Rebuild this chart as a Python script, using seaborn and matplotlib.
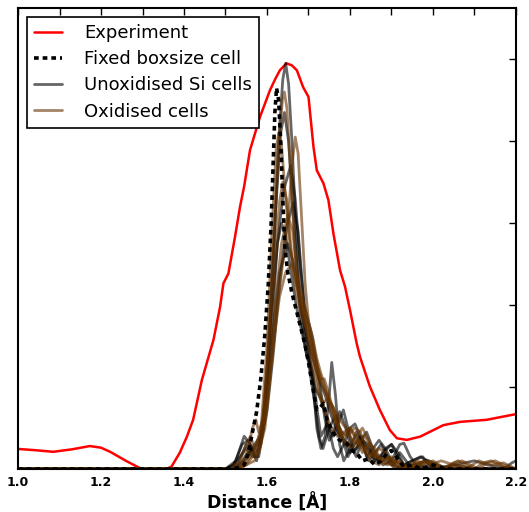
import matplotlib
matplotlib.use("Agg")
import matplotlib.pyplot as plt
from matplotlib.lines import Line2D
import seaborn as sns
import pandas as pd

# ---------------- data ----------------
exp_x = [1.000, 1.040, 1.085, 1.130, 1.173, 1.200, 1.222, 1.260, 1.294, 1.310, 1.358, 1.370,
         1.390, 1.407, 1.422, 1.443, 1.471, 1.487, 1.495, 1.507, 1.523, 1.535, 1.545, 1.559,
         1.583, 1.607, 1.620, 1.631, 1.647, 1.660, 1.672, 1.687, 1.700, 1.712, 1.720, 1.736,
         1.748, 1.760, 1.776, 1.788, 1.800, 1.816, 1.824, 1.848, 1.872, 1.896, 1.913, 1.937,
         1.969, 1.985, 2.025, 2.065, 2.129, 2.200]
exp_y = [0.049, 0.046, 0.042, 0.048, 0.056, 0.052, 0.042, 0.020, 0.002, 0.000, 0.000, 0.006,
         0.040, 0.079, 0.120, 0.217, 0.315, 0.396, 0.453, 0.477, 0.567, 0.640, 0.690, 0.778,
         0.859, 0.924, 0.952, 0.973, 0.990, 0.985, 0.973, 0.932, 0.908, 0.786, 0.729, 0.697,
         0.656, 0.575, 0.485, 0.445, 0.388, 0.307, 0.274, 0.201, 0.144, 0.095, 0.075, 0.071,
         0.079, 0.087, 0.107, 0.115, 0.120, 0.134]

fixed_cell = [(1.00, 0), (1.50, 0), (1.53, 0.003), (1.545, 0.01), (1.555, 0.04), (1.565, 0.09),
              (1.575, 0.14), (1.585, 0.22), (1.595, 0.33), (1.603, 0.45), (1.61, 0.60),
              (1.615, 0.75), (1.619, 0.87), (1.623, 0.93), (1.628, 0.90), (1.633, 0.80),
              (1.638, 0.66), (1.643, 0.54), (1.65, 0.48), (1.66, 0.43), (1.675, 0.37),
              (1.69, 0.31), (1.70, 0.26), (1.712, 0.19), (1.72, 0.145), (1.728, 0.15),
              (1.736, 0.16), (1.745, 0.12), (1.76, 0.088), (1.775, 0.07), (1.792, 0.063),
              (1.805, 0.045), (1.816, 0.039), (1.83, 0.02), (1.845, 0.025), (1.86, 0.01),
              (1.875, 0.02), (1.89, 0.04), (1.90, 0.045), (1.915, 0.025), (1.93, 0.005),
              (1.95, 0.01), (1.97, 0.0), (2.0, 0.01), (2.03, 0.0), (2.2, 0.0)]

unox_a = [(1.0, 0), (1.50, 0), (1.52, 0.01), (1.54, 0.06), (1.555, 0.07), (1.57, 0.03), (1.585, 0.06),
          (1.60, 0.22), (1.615, 0.50), (1.628, 0.80), (1.638, 0.95), (1.645, 0.99), (1.652, 0.94),
          (1.66, 0.80), (1.67, 0.58), (1.68, 0.42), (1.69, 0.34), (1.70, 0.30), (1.71, 0.22),
          (1.72, 0.10), (1.73, 0.05), (1.74, 0.08), (1.75, 0.18), (1.756, 0.26), (1.765, 0.18),
          (1.775, 0.06), (1.785, 0.02), (1.80, 0.05), (1.815, 0.09), (1.83, 0.06), (1.845, 0.02),
          (1.86, 0.04), (1.875, 0.06), (1.89, 0.03), (1.905, 0.01), (1.92, 0.04), (1.935, 0.02),
          (1.95, 0.0), (1.97, 0.01), (2.0, 0.0), (2.2, 0.0)]
unox_b = [(1.0, 0), (1.50, 0), (1.525, 0.02), (1.545, 0.08), (1.56, 0.06), (1.575, 0.02), (1.59, 0.10),
          (1.605, 0.32), (1.62, 0.62), (1.633, 0.82), (1.642, 0.87), (1.652, 0.80), (1.665, 0.60),
          (1.68, 0.38), (1.695, 0.28), (1.71, 0.24), (1.72, 0.15), (1.73, 0.08), (1.745, 0.11),
          (1.76, 0.08), (1.775, 0.12), (1.784, 0.144), (1.795, 0.10), (1.81, 0.04), (1.825, 0.07),
          (1.84, 0.09), (1.855, 0.05), (1.87, 0.02), (1.885, 0.05), (1.90, 0.06), (1.915, 0.03),
          (1.93, 0.01), (1.95, 0.02), (1.975, 0.03), (1.99, 0.01), (2.02, 0.0), (2.05, 0.01),
          (2.1, 0.0), (2.17, 0.0), (2.19, 0.015), (2.2, 0.02)]
unox_c = [(1.0, 0), (1.51, 0), (1.535, 0.03), (1.55, 0.05), (1.565, 0.03), (1.58, 0.03), (1.595, 0.12),
          (1.61, 0.32), (1.625, 0.55), (1.64, 0.68), (1.657, 0.74), (1.668, 0.66), (1.68, 0.50),
          (1.69, 0.40), (1.70, 0.36), (1.71, 0.32), (1.725, 0.22), (1.74, 0.12), (1.75, 0.07),
          (1.76, 0.09), (1.775, 0.14), (1.79, 0.10), (1.80, 0.06), (1.815, 0.03), (1.83, 0.07),
          (1.845, 0.06), (1.86, 0.02), (1.88, 0.04), (1.90, 0.06), (1.915, 0.04), (1.93, 0.01),
          (1.95, 0.02), (1.97, 0.03), (1.985, 0.02), (2.0, 0.0), (2.05, 0.01), (2.1, 0.02),
          (2.13, 0.01), (2.2, 0.0)]
unox_d = [(1.0, 0), (1.52, 0), (1.54, 0.02), (1.555, 0.04), (1.57, 0.05), (1.585, 0.07), (1.60, 0.14),
          (1.615, 0.28), (1.63, 0.45), (1.645, 0.58), (1.663, 0.65), (1.675, 0.58), (1.685, 0.45),
          (1.695, 0.32), (1.705, 0.24), (1.715, 0.20), (1.73, 0.17), (1.745, 0.12), (1.76, 0.05),
          (1.77, 0.03), (1.785, 0.06), (1.80, 0.10), (1.812, 0.11), (1.825, 0.08), (1.84, 0.03),
          (1.855, 0.05), (1.87, 0.07), (1.885, 0.05), (1.90, 0.02), (1.92, 0.06), (1.93, 0.063),
          (1.945, 0.03), (1.96, 0.01), (1.985, 0.022), (2.01, 0.01), (2.04, 0.0), (2.2, 0.0)]
unox_e = [(1.0, 0), (1.50, 0), (1.53, 0.015), (1.55, 0.06), (1.565, 0.04), (1.58, 0.05), (1.595, 0.16),
          (1.61, 0.38), (1.625, 0.55), (1.635, 0.60), (1.645, 0.57), (1.655, 0.50), (1.67, 0.40),
          (1.685, 0.33), (1.70, 0.26), (1.715, 0.16), (1.725, 0.08), (1.735, 0.05), (1.75, 0.10),
          (1.765, 0.13), (1.78, 0.08), (1.795, 0.03), (1.81, 0.06), (1.825, 0.08), (1.84, 0.05),
          (1.86, 0.02), (1.875, 0.03), (1.89, 0.02), (1.91, 0.0), (1.93, 0.01), (1.96, 0.0), (2.2, 0.0)]
unox_f = [(1.0, 0), (1.51, 0), (1.535, 0.01), (1.555, 0.03), (1.57, 0.06), (1.585, 0.08), (1.60, 0.18),
          (1.615, 0.34), (1.63, 0.48), (1.65, 0.55), (1.665, 0.50), (1.68, 0.40), (1.695, 0.33),
          (1.71, 0.27), (1.725, 0.22), (1.74, 0.18), (1.755, 0.13), (1.77, 0.09), (1.785, 0.07),
          (1.80, 0.04), (1.815, 0.05), (1.83, 0.07), (1.845, 0.05), (1.86, 0.03), (1.88, 0.01),
          (1.90, 0.02), (1.92, 0.0), (1.95, 0.01), (2.0, 0.0), (2.2, 0.0)]

ox_a = [(1.0, 0), (1.52, 0), (1.54, 0.01), (1.555, 0.05), (1.565, 0.10), (1.573, 0.12), (1.58, 0.09),
        (1.59, 0.12), (1.60, 0.25), (1.615, 0.52), (1.628, 0.78), (1.637, 0.90), (1.642, 0.92),
        (1.648, 0.88), (1.657, 0.72), (1.668, 0.52), (1.68, 0.40), (1.69, 0.38), (1.70, 0.35),
        (1.712, 0.28), (1.725, 0.20), (1.74, 0.14), (1.755, 0.10), (1.77, 0.08), (1.785, 0.09),
        (1.80, 0.10), (1.815, 0.07), (1.83, 0.04), (1.845, 0.06), (1.86, 0.05), (1.875, 0.02),
        (1.89, 0.01), (1.91, 0.02), (1.93, 0.01), (1.95, 0.0), (1.97, 0.015), (1.99, 0.02),
        (2.01, 0.01), (2.03, 0.0), (2.05, 0.015), (2.07, 0.02), (2.09, 0.01), (2.11, 0.0),
        (2.13, 0.015), (2.15, 0.02), (2.17, 0.01), (2.2, 0.0)]
ox_b = [(1.0, 0), (1.53, 0), (1.55, 0.01), (1.565, 0.03), (1.58, 0.04), (1.595, 0.10), (1.61, 0.25),
        (1.625, 0.40), (1.64, 0.52), (1.652, 0.62), (1.66, 0.74), (1.668, 0.81), (1.675, 0.77),
        (1.683, 0.62), (1.692, 0.45), (1.70, 0.36), (1.71, 0.32), (1.72, 0.27), (1.728, 0.24),
        (1.74, 0.20), (1.755, 0.14), (1.77, 0.10), (1.785, 0.07), (1.80, 0.06), (1.815, 0.08),
        (1.83, 0.10), (1.845, 0.07), (1.86, 0.03), (1.875, 0.02), (1.89, 0.03), (1.91, 0.01),
        (1.93, 0.0), (1.95, 0.01), (1.98, 0.02), (2.0, 0.01), (2.02, 0.0), (2.04, 0.01),
        (2.06, 0.02), (2.08, 0.01), (2.1, 0.0), (2.12, 0.015), (2.14, 0.02), (2.16, 0.01),
        (2.18, 0.0), (2.2, 0.0)]
ox_c = [(1.0, 0), (1.51, 0), (1.535, 0.02), (1.55, 0.06), (1.56, 0.08), (1.57, 0.05), (1.585, 0.09),
        (1.60, 0.30), (1.612, 0.58), (1.622, 0.78), (1.628, 0.82), (1.635, 0.79), (1.645, 0.66),
        (1.655, 0.55), (1.665, 0.47), (1.68, 0.42), (1.695, 0.36), (1.71, 0.30), (1.72, 0.26),
        (1.73, 0.21), (1.745, 0.18), (1.76, 0.15), (1.775, 0.12), (1.79, 0.10), (1.805, 0.07),
        (1.82, 0.06), (1.835, 0.08), (1.85, 0.06), (1.865, 0.03), (1.88, 0.02), (1.90, 0.03),
        (1.92, 0.01), (1.94, 0.0), (1.96, 0.015), (1.98, 0.0), (2.2, 0.0)]
ox_d = [(1.0, 0), (1.52, 0), (1.545, 0.01), (1.56, 0.03), (1.575, 0.06), (1.59, 0.12), (1.605, 0.30),
        (1.62, 0.52), (1.63, 0.65), (1.638, 0.70), (1.647, 0.66), (1.657, 0.55), (1.67, 0.43),
        (1.685, 0.37), (1.70, 0.33), (1.712, 0.27), (1.725, 0.22), (1.738, 0.22), (1.75, 0.18),
        (1.765, 0.12), (1.78, 0.09), (1.795, 0.08), (1.81, 0.10), (1.825, 0.09), (1.84, 0.05),
        (1.855, 0.03), (1.87, 0.05), (1.885, 0.04), (1.90, 0.01), (1.92, 0.02), (1.94, 0.0),
        (1.97, 0.01), (2.0, 0.02), (2.03, 0.0), (2.06, 0.01), (2.1, 0.0), (2.2, 0.0)]
ox_e = [(1.0, 0), (1.52, 0), (1.545, 0.02), (1.56, 0.04), (1.575, 0.04), (1.59, 0.09), (1.605, 0.22),
        (1.62, 0.40), (1.635, 0.55), (1.65, 0.62), (1.662, 0.58), (1.675, 0.45), (1.685, 0.39),
        (1.695, 0.34), (1.705, 0.28), (1.72, 0.20), (1.732, 0.16), (1.745, 0.17), (1.76, 0.15),
        (1.775, 0.10), (1.79, 0.06), (1.805, 0.05), (1.82, 0.07), (1.835, 0.05), (1.85, 0.02),
        (1.87, 0.01), (1.89, 0.03), (1.91, 0.02), (1.93, 0.0), (1.96, 0.02), (1.99, 0.01),
        (2.02, 0.02), (2.05, 0.01), (2.08, 0.0), (2.11, 0.02), (2.14, 0.01), (2.17, 0.015), (2.2, 0.0)]
ox_f = [(1.0, 0), (1.53, 0), (1.55, 0.01), (1.57, 0.02), (1.585, 0.06), (1.60, 0.16), (1.615, 0.30),
        (1.63, 0.42), (1.645, 0.48), (1.66, 0.50), (1.672, 0.47), (1.685, 0.42), (1.70, 0.35),
        (1.715, 0.27), (1.728, 0.23), (1.74, 0.19), (1.755, 0.15), (1.77, 0.11), (1.785, 0.08),
        (1.80, 0.10), (1.815, 0.08), (1.83, 0.05), (1.845, 0.03), (1.86, 0.04), (1.88, 0.02),
        (1.90, 0.01), (1.92, 0.0), (2.2, 0.0)]

unox_cells = [unox_a, unox_b, unox_c, unox_d, unox_e, unox_f]
ox_cells = [ox_a, ox_b, ox_c, ox_d, ox_e, ox_f]

x_ticks = [1.0, 1.2, 1.4, 1.6, 1.8, 2.0, 2.2]
x_minor = [1.1, 1.3, 1.5, 1.7, 1.9, 2.1]
y_ticks = [0.2, 0.4, 0.6, 0.8, 1.0]
labels = ["Experiment", "Fixed boxsize cell", "Unoxidised Si cells", "Oxidised cells"]

# ---------------- plotting ----------------
sns.set_theme(style="white")
plt.rcParams['font.family'] = ['DejaVu Sans']
plt.rcParams['text.color'] = 'black'
plt.rcParams['axes.labelcolor'] = 'black'
plt.rcParams['xtick.color'] = 'black'
plt.rcParams['ytick.color'] = 'black'

fig = plt.figure(figsize=(5.29, 5.12), dpi=100)
ax = fig.add_axes([18 / 529, 43 / 512, 498 / 529, 461 / 512])

UNOX_COLOR = "#000000"
OX_COLOR = "#663300"
LW_SIM = 2.0


def to_df(pts):
    return pd.DataFrame(pts, columns=["x", "y"])


sns.lineplot(x=exp_x, y=exp_y, color="red", lw=1.8, ax=ax, sort=False, estimator=None)
for pts in unox_cells:
    d = to_df(pts)
    sns.lineplot(data=d, x="x", y="y", color=UNOX_COLOR, alpha=0.6, lw=LW_SIM, ax=ax,
                 sort=False, estimator=None)
for pts in ox_cells:
    d = to_df(pts)
    sns.lineplot(data=d, x="x", y="y", color=OX_COLOR, alpha=0.6, lw=LW_SIM, ax=ax,
                 sort=False, estimator=None)
d = to_df(fixed_cell)
sns.lineplot(data=d, x="x", y="y", color="black", lw=2.6, ax=ax, sort=False,
             estimator=None, dashes=False)
ax.lines[-1].set_dashes([1.3, 1.1])

ax.set_xlim(1.0, 2.2)
ax.set_ylim(0, 1.125)
ax.set_xticks(x_ticks)
ax.set_xticks(x_minor, minor=True)
ax.set_xticklabels([f"{v:.1f}" for v in x_ticks], fontweight="bold", fontsize=9)
ax.set_yticks(y_ticks)
ax.set_yticklabels([])
ax.tick_params(which="both", direction="in", top=True, right=True, length=5, width=1,
               color="black", pad=5)
ax.set_xlabel("Distance [Å]", fontweight="bold", fontsize=12.5, labelpad=3, color="black")
ax.set_ylabel("")
for s in ax.spines.values():
    s.set_color("black")
    s.set_linewidth(1.5)

handles = [
    Line2D([], [], color="red", lw=1.8),
    Line2D([], [], color="black", lw=2.6, dashes=[1.3, 1.1]),
    Line2D([], [], color=UNOX_COLOR, alpha=0.6, lw=LW_SIM),
    Line2D([], [], color=OX_COLOR, alpha=0.6, lw=LW_SIM),
]
leg = ax.legend(handles, labels, loc="upper left", fontsize=13, frameon=True, fancybox=False,
                framealpha=1, edgecolor="black", borderaxespad=0.5, borderpad=0.4,
                labelspacing=0.45, handlelength=1.55, handletextpad=1.2)
leg.get_frame().set_linewidth(1.2)
for t in leg.get_texts():
    t.set_color("black")

fig.savefig("out.png", dpi=100)
